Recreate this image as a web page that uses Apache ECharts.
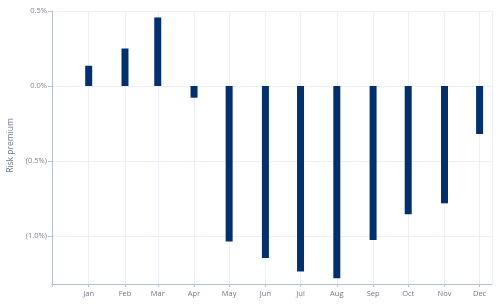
<!DOCTYPE html>
<html><head><meta charset="utf-8">
<script src="https://cdn.jsdelivr.net/npm/echarts@6/dist/echarts.min.js"></script>
<style>html,body{margin:0;padding:0;background:#fff}#c{width:500px;height:308px}</style>
</head><body><div id="c"></div>
<script>
const dates = ['2023-01-01','2023-02-01','2023-03-01','2023-04-01','2023-05-01','2023-06-01','2023-07-01','2023-08-01','2023-09-01','2023-10-01','2023-11-01','2023-12-01'];
const monthLabels = ['Jan','Feb','Mar','Apr','May','Jun','Jul','Aug','Sep','Oct','Nov','Dec'];
const riskPremium = [0.135, 0.25, 0.457, -0.078, -1.037, -1.146, -1.237, -1.282, -1.027, -0.855, -0.782, -0.32];
const yTicks = [0.5, 0.0, -0.5, -1.0];

const DAY = 864e5;
const firstDate = Date.parse(dates[0]) - DAY;
const chart = echarts.init(document.getElementById('c'), null, {renderer:'canvas'});
const fmtY = v => {
  const a = Math.abs(v).toFixed(1) + '%';
  return v < -1e-9 ? '(' + a + ')' : a;
};
const fmtX = v => {
  if (v < firstDate) return '';
  const d = new Date(v + 12*3600e3);
  return monthLabels[d.getUTCMonth()];
};
chart.setOption({
  animation:false,
  grid:{left:52,right:8,top:11,bottom:24,containLabel:false,outerBoundsMode:'none'},
  xAxis:{
    type:'time',
    min:Date.parse('2022-12-01') + 2.63*DAY,
    max:Date.parse('2023-12-01') + 7.61*DAY,
    minInterval:28*DAY,
    maxInterval:31*DAY,
    axisLine:{onZero:false,lineStyle:{color:'#b4c2d4'}},
    axisTick:{show:true,length:3,lineStyle:{color:'#b4c2d4'}},
    axisLabel:{color:'#6e7a8c',fontSize:7.5,fontFamily:'Open Sans',margin:6,
      formatter:fmtX, showMinLabel:false, showMaxLabel:false},
    splitLine:{show:true,lineStyle:{color:'#eceff5'}}
  },
  yAxis:{
    type:'value',min:-1.32,max:0.5,
    name:'Risk premium',nameLocation:'middle',nameGap:27,
    nameTextStyle:{color:'#6e7a8c',fontSize:8.5,fontFamily:'Open Sans',padding:[0,0,0,4]},
    axisLine:{show:true,lineStyle:{color:'#b4c2d4'}},
    axisTick:{show:true,length:4,customValues:yTicks,lineStyle:{color:'#b4c2d4'}},
    axisLabel:{color:'#7d8797',fontSize:7.5,fontFamily:'Open Sans',margin:5,customValues:yTicks,
      formatter:fmtY},
    splitLine:{show:true,lineStyle:{color:'#eceff5'}}
  },
  series:[{
    type:'bar',barWidth:7,
    itemStyle:{color:'#02306c'},
    data:dates.map((d,i)=>[Date.parse(d), riskPremium[i]])
  }]
});
</script></body></html>
